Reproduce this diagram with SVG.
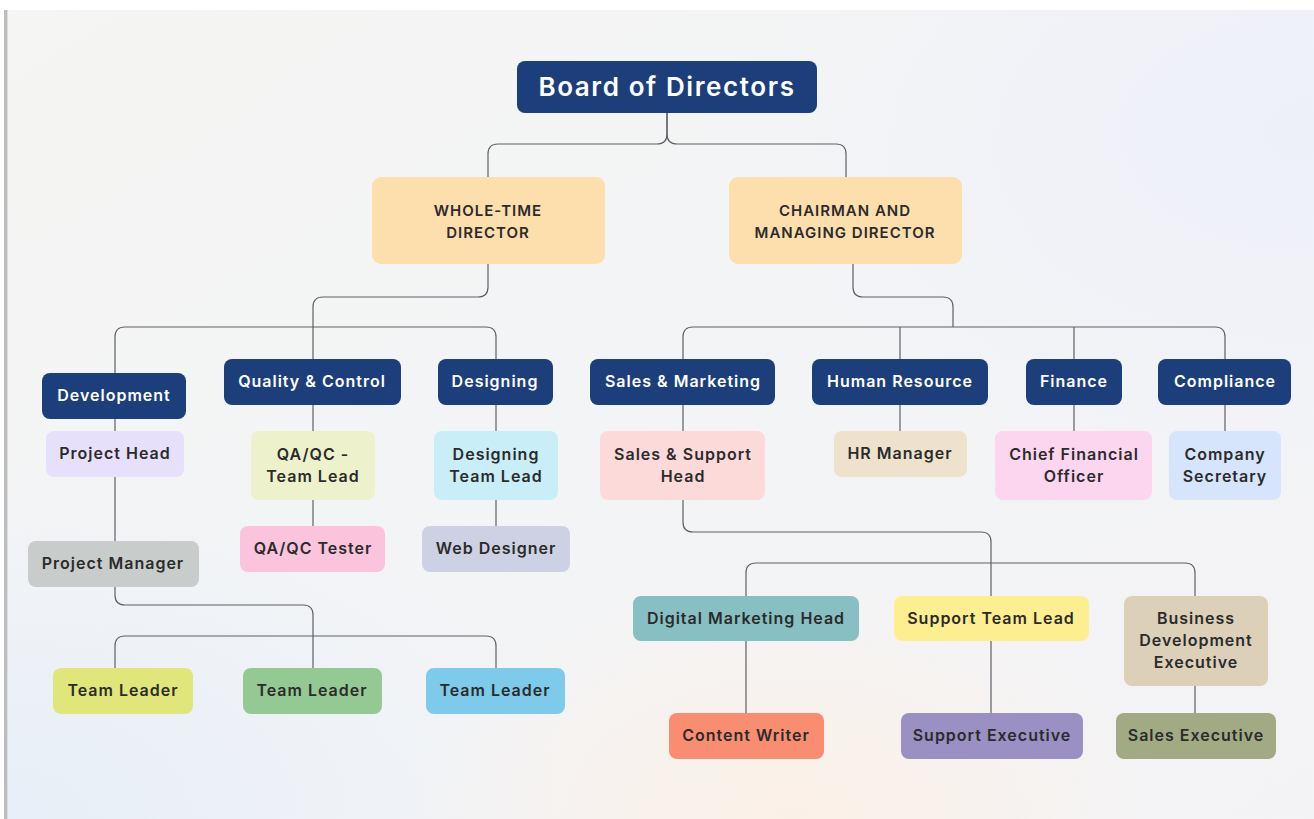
<svg xmlns="http://www.w3.org/2000/svg" width="1314" height="819" viewBox="0 0 1314 819">
<defs>
<linearGradient id="bg" x1="0" y1="0" x2="1" y2="1">
<stop offset="0" stop-color="#f5f5f3"/>
<stop offset="0.5" stop-color="#f3f4f6"/>
<stop offset="1" stop-color="#f3f3f6"/>
</linearGradient>
<radialGradient id="blueR" cx="1" cy="0.15" r="0.45">
<stop offset="0" stop-color="#eef0f9" stop-opacity="1"/>
<stop offset="1" stop-color="#eef0f9" stop-opacity="0"/>
</radialGradient>
<radialGradient id="blueL" cx="0" cy="1" r="0.45">
<stop offset="0" stop-color="#e8eff8" stop-opacity="1"/>
<stop offset="1" stop-color="#e8eff8" stop-opacity="0"/>
</radialGradient>
<radialGradient id="peach" cx="0.6" cy="1" r="0.3">
<stop offset="0" stop-color="#fbf0e6" stop-opacity="1"/>
<stop offset="1" stop-color="#fbf0e6" stop-opacity="0"/>
</radialGradient>
</defs>
<style>
text{font-family:Inter,"Open Sans","DejaVu Sans",sans-serif;font-weight:600;text-anchor:middle}
.dk rect{fill:#1c3f7b}
.dk text{fill:#ffffff;font-size:16px;letter-spacing:1px}
.lt text{fill:#2b2b2b;font-size:16px;letter-spacing:1px}
.dir text{fill:#2b2b2b;font-size:15px;letter-spacing:1px}
.c path{fill:none;stroke:#5d6066;stroke-width:1.2}
</style>
<rect width="1314" height="819" fill="#ffffff"/>
<rect x="8" y="10" width="1306" height="809" fill="url(#bg)"/>
<rect x="8" y="10" width="1306" height="809" fill="url(#blueR)"/>
<rect x="8" y="10" width="1306" height="809" fill="url(#blueL)"/>
<rect x="8" y="10" width="1306" height="809" fill="url(#peach)"/>
<rect x="4" y="10" width="3.5" height="809" fill="#bdbdbd"/>

<g class="c" id="connectors">
<path d="M667,113 V134 Q667,144 657,144 H498 Q488,144 488,154 V177"/>
<path d="M667,113 V134 Q667,144 677,144 H836 Q846,144 846,154 V177"/>
<path d="M488,264 V287 Q488,297 478,297 H323 Q313,297 313,307 V359"/>
<path d="M115,373 V337 Q115,327 125,327 H486 Q496,327 496,337 V359"/>
<path d="M853,264 V287 Q853,297 863,297 H943 Q953,297 953,307 V327"/>
<path d="M683,359 V337 Q683,327 693,327 H1215 Q1225,327 1225,337 V359"/>
<path d="M900,327 V359"/>
<path d="M1074,327 V359"/>
<path d="M115,419 V431"/>
<path d="M115,477 V541"/>
<path d="M313,405 V431"/>
<path d="M313,500 V526"/>
<path d="M496,405 V431"/>
<path d="M496,500 V526"/>
<path d="M683,405 V431"/>
<path d="M900,405 V431"/>
<path d="M1074,405 V431"/>
<path d="M1225,405 V431"/>
<path d="M115,587 V595 Q115,605 125,605 H303 Q313,605 313,615 V668"/>
<path d="M115,668 V646 Q115,636 125,636 H486 Q496,636 496,646 V668"/>
<path d="M683,500 V522 Q683,532 693,532 H981 Q991,532 991,542 V596"/>
<path d="M746,596 V573 Q746,563 756,563 H1185 Q1195,563 1195,573 V596"/>
<path d="M746,641 V713"/>
<path d="M991,641 V713"/>
<path d="M1195,686 V713"/>
</g>

<g id="board" class="dk"><rect x="517" y="61" width="300" height="52" rx="8"/><text x="667" y="96" style="font-size:26px;letter-spacing:1.6px">Board of Directors</text></g>

<g id="wtd" class="dir"><rect x="372" y="177" width="233" height="87" rx="9" fill="#fddfae"/><text x="488" y="216">WHOLE-TIME</text><text x="488" y="238">DIRECTOR</text></g>
<g id="cmd" class="dir"><rect x="729" y="177" width="233" height="87" rx="9" fill="#fddfae"/><text x="845" y="216">CHAIRMAN AND</text><text x="845" y="238">MANAGING DIRECTOR</text></g>

<g id="development" class="dk"><rect x="42" y="373" width="144" height="46" rx="8"/><text x="114" y="401">Development</text></g>
<g id="qc" class="dk"><rect x="224" y="359" width="177" height="46" rx="8"/><text x="312" y="387">Quality &amp; Control</text></g>
<g id="designing" class="dk"><rect x="438" y="359" width="115" height="46" rx="8"/><text x="495" y="387">Designing</text></g>
<g id="sales" class="dk"><rect x="590" y="359" width="185" height="46" rx="8"/><text x="683" y="387">Sales &amp; Marketing</text></g>
<g id="hr" class="dk"><rect x="812" y="359" width="176" height="46" rx="8"/><text x="900" y="387">Human Resource</text></g>
<g id="finance" class="dk"><rect x="1026" y="359" width="96" height="46" rx="8"/><text x="1074" y="387">Finance</text></g>
<g id="compliance" class="dk"><rect x="1158" y="359" width="133" height="46" rx="8"/><text x="1225" y="387">Compliance</text></g>

<g id="projecthead" class="lt"><rect x="46" y="431" width="138" height="46" rx="8" fill="#e7e0fb"/><text x="115" y="459">Project Head</text></g>
<g id="qalead" class="lt"><rect x="251" y="431" width="124" height="69" rx="8" fill="#eef2cc"/><text x="313" y="460">QA/QC -</text><text x="313" y="482">Team Lead</text></g>
<g id="designlead" class="lt"><rect x="434" y="431" width="124" height="69" rx="8" fill="#c9eef8"/><text x="496" y="460">Designing</text><text x="496" y="482">Team Lead</text></g>
<g id="sshead" class="lt"><rect x="600" y="431" width="165" height="69" rx="8" fill="#fddada"/><text x="683" y="460">Sales &amp; Support</text><text x="683" y="482">Head</text></g>
<g id="hrmanager" class="lt"><rect x="834" y="431" width="133" height="46" rx="8" fill="#eee2cc"/><text x="900" y="459">HR Manager</text></g>
<g id="cfo" class="lt"><rect x="995" y="431" width="157" height="69" rx="8" fill="#fcd6ef"/><text x="1074" y="460">Chief Financial</text><text x="1074" y="482">Officer</text></g>
<g id="secretary" class="lt"><rect x="1169" y="431" width="112" height="69" rx="8" fill="#d6e5fb"/><text x="1225" y="460">Company</text><text x="1225" y="482">Secretary</text></g>

<g id="pm" class="lt"><rect x="28" y="541" width="171" height="46" rx="8" fill="#c8cccb"/><text x="113" y="569">Project Manager</text></g>
<g id="tester" class="lt"><rect x="240" y="526" width="145" height="46" rx="8" fill="#fbc3dc"/><text x="313" y="554">QA/QC Tester</text></g>
<g id="webdesigner" class="lt"><rect x="422" y="526" width="148" height="46" rx="8" fill="#ced1e4"/><text x="496" y="554">Web Designer</text></g>

<g id="tl1" class="lt"><rect x="53" y="668" width="140" height="46" rx="8" fill="#e1e67a"/><text x="123" y="696">Team Leader</text></g>
<g id="tl2" class="lt"><rect x="243" y="668" width="139" height="46" rx="8" fill="#95c993"/><text x="312" y="696">Team Leader</text></g>
<g id="tl3" class="lt"><rect x="426" y="668" width="139" height="46" rx="8" fill="#7ecaea"/><text x="495" y="696">Team Leader</text></g>

<g id="dmh" class="lt"><rect x="633" y="596" width="226" height="45" rx="8" fill="#88bfc3"/><text x="746" y="624">Digital Marketing Head</text></g>
<g id="stl" class="lt"><rect x="894" y="596" width="195" height="45" rx="8" fill="#fdef8f"/><text x="991" y="624">Support Team Lead</text></g>
<g id="bde" class="lt"><rect x="1124" y="596" width="144" height="90" rx="8" fill="#ddd0b9"/><text x="1196" y="624">Business</text><text x="1196" y="646">Development</text><text x="1196" y="668">Executive</text></g>

<g id="writer" class="lt"><rect x="669" y="713" width="155" height="46" rx="8" fill="#f98d71"/><text x="746" y="741">Content Writer</text></g>
<g id="supportexec" class="lt"><rect x="901" y="713" width="182" height="46" rx="8" fill="#9a90c3"/><text x="992" y="741">Support Executive</text></g>
<g id="salesexec" class="lt"><rect x="1116" y="713" width="160" height="46" rx="8" fill="#a2aa84"/><text x="1196" y="741">Sales Executive</text></g>
</svg>
